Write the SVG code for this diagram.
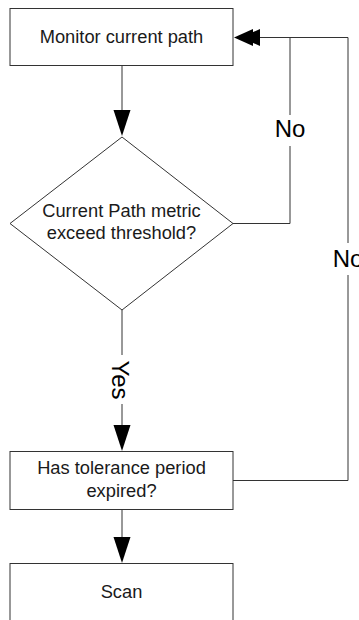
<svg xmlns="http://www.w3.org/2000/svg" width="359" height="620" viewBox="0 0 359 620">
  <style>
    .box { fill: #ffffff; stroke: #333333; stroke-width: 1; }
    .wire { fill: none; stroke: #333333; stroke-width: 1; }
    .head { fill: #000000; stroke: none; }
    .label { font-family: "Liberation Sans", Arial, sans-serif; font-size: 18.3px; fill: #1a1a1a; text-anchor: middle; }
    .edge-label { font-family: "Liberation Sans", Arial, sans-serif; font-size: 24px; fill: #000000; text-anchor: middle; }
  </style>
  <defs>
    <path id="head-down" d="M -8.5 -26 L 8.5 -26 L 0 0 Z"/>
  </defs>
  <rect width="359" height="620" fill="#ffffff"/>

  <g id="connectors">
    <!-- monitor -> decision -->
    <path class="wire" d="M 122 65.5 V 112"/>
    <use href="#head-down" class="head" transform="translate(122,136)"/>
    <!-- decision -> tolerance check (Yes) -->
    <path class="wire" d="M 122 310 V 355 M 122 404 V 430"/>
    <use href="#head-down" class="head" transform="translate(122,451)"/>
    <text class="edge-label" transform="translate(112,380) rotate(90)">Yes</text>
    <!-- tolerance check -> scan -->
    <path class="wire" d="M 122 509.5 V 540"/>
    <use href="#head-down" class="head" transform="translate(122,563)"/>
    <!-- decision No loop back -->
    <path class="wire" d="M 233 223.5 H 290 V 146 M 290 115 V 37.5"/>
    <text class="edge-label" x="290" y="137">No</text>
    <!-- tolerance No loop back -->
    <path class="wire" d="M 233 480.5 H 348 V 275 M 348 243 V 37.5 H 256"/>
    <text class="edge-label" x="348" y="266.5">No</text>
    <!-- merged arrowheads into monitor box -->
    <path class="head" d="M 241 37.5 L 260 29 L 260 46 Z"/>
    <path class="head" d="M 234 37.5 L 253 29 L 253 46 Z"/>
  </g>

  <g id="monitor">
    <rect class="box" x="10" y="8.5" width="223" height="57"/>
    <text class="label" x="121.5" y="43">Monitor current path</text>
  </g>

  <g id="decision">
    <polygon class="box" points="122,137 233,223.5 122,310 10,223.5"/>
    <text class="label" x="121.5" y="217">Current Path metric</text>
    <text class="label" x="121.5" y="239">exceed threshold?</text>
  </g>

  <g id="tolerance">
    <rect class="box" x="10" y="451.5" width="223" height="58"/>
    <text class="label" x="121.5" y="474">Has tolerance period</text>
    <text class="label" x="121.5" y="497">expired?</text>
  </g>

  <g id="scan">
    <rect class="box" x="10" y="563.5" width="223" height="60"/>
    <text class="label" x="121.5" y="598">Scan</text>
  </g>
</svg>
